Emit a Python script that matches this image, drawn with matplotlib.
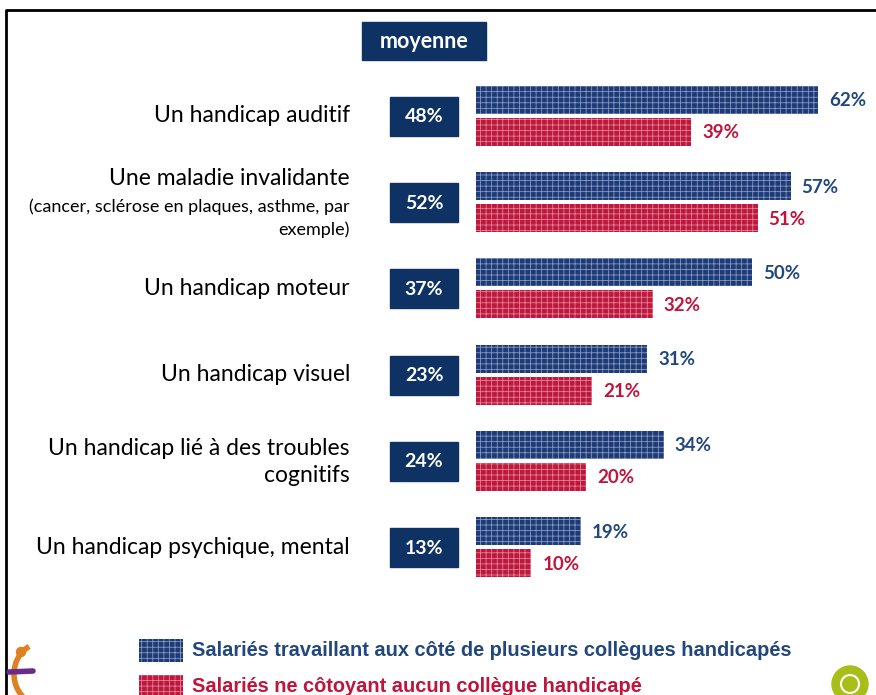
import matplotlib
matplotlib.use('Agg')
import matplotlib.pyplot as plt
from matplotlib.patches import Rectangle, Circle, Arc

categories = ['Un handicap auditif',
              'Une maladie invalidante',
              'Un handicap moteur',
              'Un handicap visuel',
              'Un handicap lié à des troubles\ncognitifs',
              'Un handicap psychique, mental']
sublabels = ['', '(cancer, sclérose en plaques, asthme, par\nexemple)', '', '', '', '']
moyenne = [48, 52, 37, 23, 24, 13]
with_colleagues = [62, 57, 50, 31, 34, 19]
without_colleagues = [39, 51, 32, 21, 20, 10]
legend_labels = ['Salariés travaillant aux côté de plusieurs collègues handicapés',
                 'Salariés ne côtoyant aucun collègue handicapé']

navy = '#1d3b78'
red = '#c0173d'
box_navy = '#0d3263'
blue_txt = '#22477f'
red_txt = '#c0143c'
hatch_col = (1, 1, 1, 0.5)

plt.rcParams['hatch.linewidth'] = 0.55
W, H = 876, 695
fig = plt.figure(figsize=(W / 100, H / 100), dpi=100)

# background axes in pixel coordinates
bg = fig.add_axes([0, 0, 1, 1])
bg.set_xlim(0, W)
bg.set_ylim(H, 0)
bg.axis('off')

# bar axes: 0 % starts at x=476 px, 5.52 px per %
px_per_pct = 5.52
bar_left = 476
ax = fig.add_axes([bar_left / W, 0, (W - bar_left) / W, 1])
ax.set_xlim(0, (W - bar_left) / px_per_pct)
ax.set_ylim(H, 0)
ax.axis('off')
ax.patch.set_alpha(0)

y0, step = 116, 86.2
ys = [y0 + i * step for i in range(len(categories))]

ax.barh([y - 16 for y in ys], with_colleagues, height=28, color=navy,
        edgecolor=hatch_col, linewidth=0, hatch='+++')
ax.barh([y + 16 for y in ys], without_colleagues, height=28, color=red,
        edgecolor=hatch_col, linewidth=0, hatch='+++')

for y, a, b in zip(ys, with_colleagues, without_colleagues):
    ax.text(a + 2, y - 15, f'{a}%', color=blue_txt, fontsize=13.5,
            fontweight='bold', family='Lato', va='center')
    ax.text(b + 2, y + 17, f'{b}%', color=red_txt, fontsize=13.5,
            fontweight='bold', family='Lato', va='center')

# category labels
for y, cat, sub in zip(ys, categories, sublabels):
    if sub:
        bg.text(350, y - 24, cat, ha='right', va='center', fontsize=16.5, family='Lato')
        bg.text(350, y + 16, sub, ha='right', va='center', fontsize=13,
                family='Lato', linespacing=1.5)
    elif '\n' in cat:
        bg.text(350, y + 1, cat, ha='right', va='center', fontsize=16.5,
                family='Lato', linespacing=1.35)
    else:
        bg.text(350, y, cat, ha='right', va='center', fontsize=16.5, family='Lato')

# moyenne boxes
bg.add_patch(Rectangle((362, 22), 124, 38, color=box_navy))
bg.text(424, 42, 'moyenne', color='white', fontsize=15.5, fontweight='bold',
        family='Lato', ha='center', va='center')
for y, m in zip(ys, moyenne):
    bg.add_patch(Rectangle((390, y - 19), 68, 39, color=box_navy))
    bg.text(424, y + 1, f'{m}%', color='white', fontsize=14, fontweight='bold',
            family='Lato', ha='center', va='center')

# legend
for i, (lab, c, tc) in enumerate(zip(legend_labels, [navy, red], [blue_txt, red_txt])):
    ly = 650 + i * 36
    bg.add_patch(Rectangle((139, ly - 11), 44, 23, facecolor=c,
                           edgecolor=hatch_col, linewidth=0, hatch='+++'))
    bg.text(192, ly, lab, color=tc, fontsize=14.4, fontweight='bold',
            family='Liberation Sans', va='center')

# frame
bg.plot([6, 6, W], [H, 10, 10], color='black', lw=2)

# little logos
bg.add_patch(Circle((21, 652), 4.5, color='#e08020'))
bg.add_patch(Arc((42, 674), 56, 62, theta1=130, theta2=245, color='#e08020', lw=4))
bg.plot([9, 33], [672, 671], color='#6a2b8a', lw=4, solid_capstyle='round')
bg.add_patch(Circle((850, 684), 18, color='#a8bf1a'))
bg.add_patch(Circle((850, 684), 9, fill=False, edgecolor='white', lw=1.5))

fig.savefig('out.png', dpi=100)
